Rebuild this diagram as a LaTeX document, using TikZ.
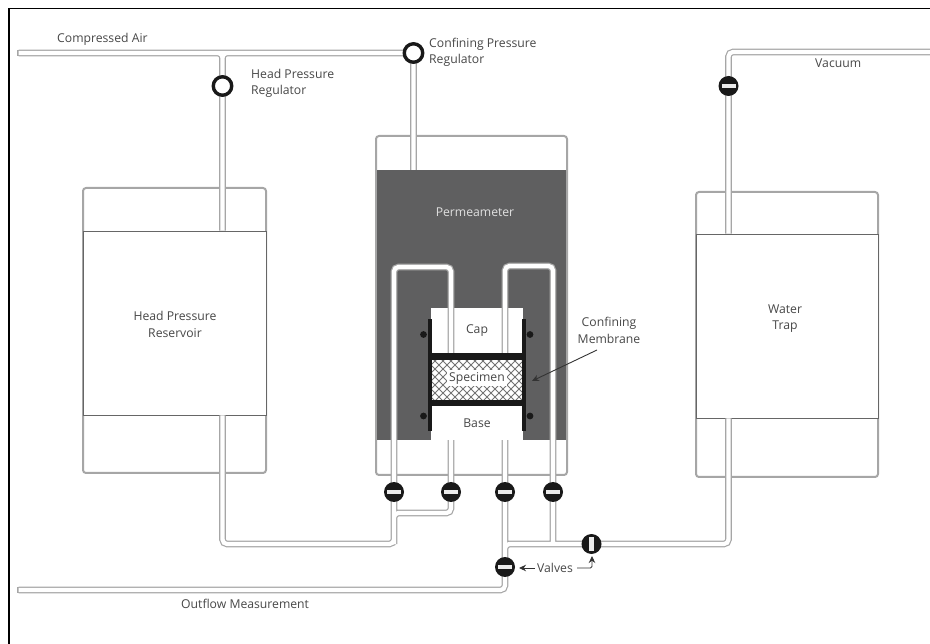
\documentclass[tikz,border=0pt]{standalone}
\usepackage{fontspec}
\setmainfont{Open Sans}
\usetikzlibrary{arrows.meta,calc}
\pgfdeclarelayer{boxes}
\pgfdeclarelayer{tubes}
\pgfsetlayers{boxes,tubes,main}
\definecolor{txt}{HTML}{474747}
\definecolor{tube}{HTML}{A6A6A6}
\definecolor{dark}{HTML}{5F5F60}
\tikzset{
  x=1pt,y=-1pt,
  label/.style={text=txt,font=\fontsize{12.2}{17}\selectfont,inner sep=0pt,align=center},
  leftlabel/.style={label,align=left,anchor=west},
  outerbox/.style={draw=tube,line width=2,rounded corners=3,fill=white,inner sep=0pt},
  innerbox/.style={draw=black!60,line width=0.9,fill=white,inner sep=0pt},
  tubeout/.style={draw=tube,line width=6.6,rounded corners=4.5},
  tubein/.style={draw=white,line width=4.2,rounded corners=4.5},
  regulator/.style={circle,draw=black!90,line width=3.4,fill=white,minimum size=18.5,inner sep=0pt},
  valveh/.style={circle,fill=black!90,minimum size=20,inner sep=0pt,
    path picture={\fill[white!92!black] ($(path picture bounding box.center)+(-7,-2.2)$) rectangle ++(14,4.4);}},
  valvev/.style={circle,fill=black!90,minimum size=20,inner sep=0pt,
    path picture={\fill[white!92!black] ($(path picture bounding box.center)+(-2.2,-7)$) rectangle ++(4.4,14);}},
  solid bar/.style={fill=black!90},
  callout/.style={draw=black!80,line width=0.9,-{Stealth[length=7,width=6.5]}},
}
\newcommand{\tubepaths}{
  (airend) -- (creg.center)
  (airend) -| (hreg.center) -- (hreg.center |- hres.north)
  (creg.center) -| (hreg.center)
  (creg.center) -- (creg.center |- dark.north)
  (v1.center) |- (ltop) -- (ltop |- cap.south)
  (v4.center) |- (rtop) -- (rtop |- cap.south)
  (v2.center) -- (v2.center |- base.south)
  (v3.center) -- (v3.center |- base.south)
  (hreg.center |- hres.south) |- (hj) -- (v1.center)
  (v2.center) |- (j2) -- (hj)
  (v3.center) -- (v5.center) |- (outend)
  (v5.center) |- (v6.center)
  (v4.center) -- (v4.center |- v6.center)
  (v6.center) -| (trap.south -| v7.center)
  (vacend) -| (v7.center) -- (v7.center |- trap.north)
}
\begin{document}
\begin{tikzpicture}
\useasboundingbox (0,0) rectangle (930,644);
\draw[black,line width=1.8] (9,644) -- (9,8.5) -- (930,8.5);

\coordinate (airend) at (18.5,53);
\coordinate (outend) at (18.5,590);
\coordinate (vacend) at (932,52);
\coordinate (ltop) at (451,267);
\coordinate (rtop) at (505,266);
\coordinate (hj) at (394,544);
\coordinate (j2) at (394,513);

\begin{pgfonlayer}{boxes}
  \node[outerbox,minimum width=183,minimum height=285] (hresout) at (174.5,330.5) {};
  \node[innerbox,minimum width=183,minimum height=184] (hres) at (174.5,323) {};
  \node[outerbox,minimum width=182,minimum height=285] (trapout) at (787,334.5) {};
  \node[innerbox,minimum width=182,minimum height=184] (trap) at (787,326) {};
  \node[outerbox,minimum width=191,minimum height=339] (permout) at (471.5,305.5) {};
  \node[fill=dark,minimum width=189,minimum height=270,inner sep=0pt] (dark) at (471.5,305) {};
  \node[fill=white,minimum width=92,minimum height=45,inner sep=0pt,text=txt,
        font=\fontsize{12.2}{15}\selectfont] (cap) at (477,331) {Cap};
  \node[fill=white,minimum width=92,minimum height=34,inner sep=0pt,text=txt,
        font=\fontsize{12.2}{15}\selectfont] (base) at (477,423) {Base};
\end{pgfonlayer}

\node[label,text=white!88!black] (permlabel) at (475,212) {Permeameter};
\node[label] (lhres) at (175,324.5) {Head Pressure\\[-0.5pt]Reservoir};
\node[label] (ltrap) at (785,318.5) {Water\\[-0.5pt]Trap};

% specimen
\node[fill=white,minimum width=90,minimum height=40,inner sep=0pt] (spec) at (477,380) {};
\begin{scope}
  \clip (spec.south west) rectangle (spec.north east);
  \foreach \d in {-60,-52,...,140} {
    \draw[black!55,line width=0.9] (420+\d,350) -- ++(70,70);
    \draw[black!55,line width=0.9] (420+\d,420) -- ++(70,-70);
  }
\end{scope}
\node[fill=white,inner sep=2.5pt,text=txt,font=\fontsize{12.2}{15}\selectfont] (speclabel) at (477,378) {Specimen};

% clamps
\fill[solid bar] (428,353) rectangle (526,360);
\fill[solid bar] (428,400) rectangle (526,406);
\fill[solid bar] (428,319) rectangle (432,431);
\fill[solid bar] (522,319) rectangle (526,431);
\foreach \cx/\cy in {423.5/334.5,530/334.5,423.5/416,530/416} \fill[solid bar] (\cx,\cy) circle (3.4);

% valves and regulators
\node[regulator] (hreg) at (222.5,86) {};
\node[regulator] (creg) at (413.5,53) {};
\node[valveh] (v1) at (394,492) {};
\node[valveh] (v2) at (451,492) {};
\node[valveh] (v3) at (505,492) {};
\node[valveh] (v4) at (553,492) {};
\node[valveh] (v5) at (505,567) {};
\node[valvev] (v6) at (591.5,544) {};
\node[valveh] (v7) at (728.5,86) {};

\begin{pgfonlayer}{tubes}
  \draw[tubeout] \tubepaths;
  \draw[tubeout,rounded corners=0] (airend) -- ++(-1.2,0) (outend) -- ++(-1.2,0);
  \draw[tubein] \tubepaths;
\end{pgfonlayer}

% labels
\node[leftlabel] (lair) at (57,39) {Compressed Air};
\node[leftlabel] (lhreg) at (251,83.5) {Head Pressure\\[-0.5pt]Regulator};
\node[leftlabel] (lcreg) at (429,52.5) {Confining Pressure\\[-0.5pt]Regulator};
\node[leftlabel] (lvac) at (815,63) {Vacuum};
\node[label] (lmem) at (609,330.5) {Confining\\[-0.5pt]Membrane};
\node[leftlabel] (lout) at (181,604) {Outflow Measurement};
\node[label] (lval) at (555,568) {Valves};

\coordinate (memstart) at (597,350);
\coordinate (memtip) at (532,381);
\coordinate (vleft) at (535,568);
\coordinate (vlefttip) at (519,568);
\coordinate (vright) at (577,568);
\coordinate (vbend) at (592,568);
\coordinate (vtip) at (592,556);
\draw[callout] (memstart) -- (memtip);
\draw[callout] (vleft) -- (vlefttip);
\draw[callout,rounded corners=1.5] (vright) -- (vbend) -- (vtip);
\end{tikzpicture}
\end{document}
